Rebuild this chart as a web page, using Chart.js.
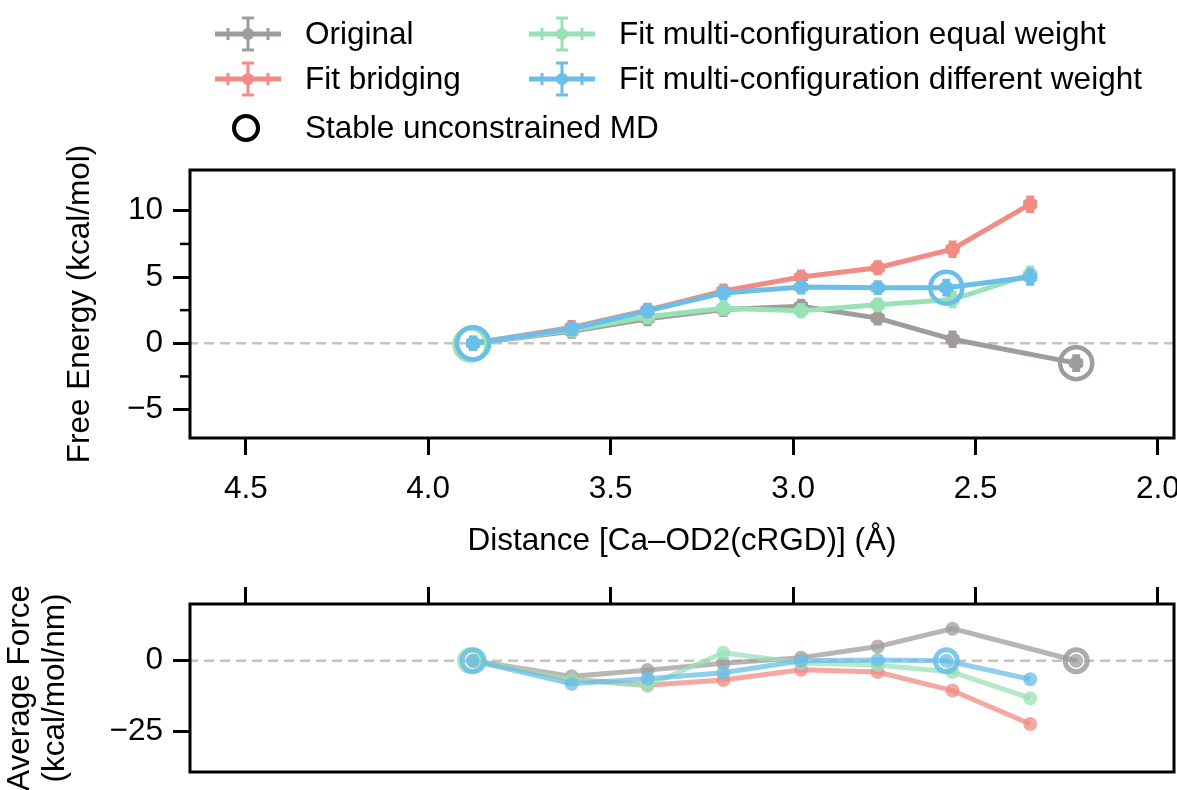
<!DOCTYPE html>
<html>
<head>
<meta charset="utf-8">
<script src="https://cdn.jsdelivr.net/npm/chart.js@4.4.1/dist/chart.umd.min.js"></script>
<style>
  html, body { margin: 0; padding: 0; background: #fff; overflow: hidden; }
  #wrap { position: relative; width: 1177px; height: 790px; }
  #topChart { position: absolute; left: 0; top: 0; }
  #bottomChart { position: absolute; left: 0; top: 560px; }
</style>
</head>
<body>
<div id="wrap">
  <canvas id="topChart" width="1177" height="570"></canvas>
  <canvas id="bottomChart" width="1177" height="240"></canvas>
</div>
<script>
// Distances (Å) of the windows
const distOriginal = [3.877, 3.607, 3.399, 3.191, 2.978, 2.768, 2.563, 2.224];
const distBridging = [3.877, 3.607, 3.399, 3.191, 2.978, 2.768, 2.563, 2.350];
const distEqual = [3.877, 3.607, 3.399, 3.191, 2.978, 2.768, 2.563, 2.350];
const distDifferent = [3.877, 3.607, 3.399, 3.191, 2.978, 2.768, 2.580, 2.350];
const distErr = [0.015, 0.015, 0.015, 0.015, 0.015, 0.015, 0.015, 0.015];

// Free energy (kcal/mol)
const energyOriginal = [0, 0.9, 1.85, 2.55, 2.8, 1.9, 0.3, -1.5];
const energyBridging = [0, 1.2, 2.5, 3.95, 5.0, 5.7, 7.1, 10.5];
const energyEqual = [0, 1.0, 2.0, 2.65, 2.45, 2.9, 3.3, 5.2];
const energyDifferent = [0, 1.1, 2.45, 3.8, 4.25, 4.2, 4.2, 5.0];
const energyErr = [0.3, 0.3, 0.3, 0.3, 0.3, 0.3, 0.4, 0.4];

// Average force (kcal/mol/nm)
const forceOriginal = [0, -5.5, -3.3, -0.9, 1.1, 5.0, 11.3, 0];
const forceBridging = [0, -6.5, -8.6, -6.8, -3.2, -4.0, -10.5, -22.3];
const forceEqual = [0, -6.5, -8.8, 2.8, -0.8, -1.5, -4.0, -13.2];
const forceDifferent = [0, -8.1, -6.3, -4.2, 0, 0.3, 0, -6.5];

// Stable unconstrained MD markers
const stableDistGrey = [2.224];
const stableEnergyGrey = [-1.5];
const stableForceGrey = [0];
const stableDistGreen = [3.884];
const stableEnergyGreen = [-0.1];
const stableForceGreen = [0];
const stableDistBlue = [3.877, 2.580];
const stableEnergyBlue = [0, 4.2];
const stableForceBlue = [0, 0];

// Axis ticks and ranges
const xTicks = [4.5, 4.0, 3.5, 3.0, 2.5, 2.0];
const xRange = [1.956, 4.653];
const energyTicks = [-5, 0, 5, 10];
const energyMinorTicks = [-2.5, 2.5, 7.5];
const energyRange = [-7.15, 13.08];
const forceTicks = [-25, 0];
const forceRange = [-39.2, 20];

const legendLabels = ['Original', 'Fit bridging', 'Fit multi-configuration equal weight', 'Fit multi-configuration different weight', 'Stable unconstrained MD'];

const GREY = '#a09c9c';
const RED = '#f28b84';
const GREEN = '#98e2b6';
const BLUE = '#6abee7';
const FONT = "'Liberation Sans', Arial, Helvetica, sans-serif";
const FONT_SIZE = 31.5;

function rgba(hex, a) {
    const n = parseInt(hex.slice(1), 16);
    return `rgba(${(n >> 16) & 255},${(n >> 8) & 255},${n & 255},${a})`;
}

function zip(xs, ys) {
    return xs.map((x, i) => ({ x: x, y: ys[i] }));
}

function fmtMinus(v) {
    return v < 0 ? '\u2212' + Math.abs(v) : String(v);
}

// Function to make a series dataset
function series(label, xs, ys, color, order, alpha, errs) {
    const c = alpha < 1 ? rgba(color, alpha) : color;
    return {
        label: label,
        data: zip(xs, ys),
        borderColor: c,
        backgroundColor: c,
        borderWidth: 5,
        pointRadius: 7,
        pointBorderWidth: 0,
        pointBackgroundColor: c,
        order: order,
        xErr: errs ? distErr : null,
        yErr: errs,
        errColor: c
    };
}

// Function to make the hollow circle dataset
function circles(xs, ys, color, order, radius, width, alpha) {
    const c = alpha < 1 ? rgba(color, alpha) : color;
    return {
        label: 'stable',
        data: zip(xs, ys),
        showLine: false,
        pointRadius: radius,
        pointBorderWidth: width,
        pointBorderColor: c,
        pointBackgroundColor: 'rgba(0,0,0,0)',
        order: order
    };
}

function zeroLine() {
    return {
        label: 'zero',
        data: zip(xRange, [0, 0]),
        borderColor: '#c4c4c4',
        borderWidth: 2.5,
        borderDash: [10, 6],
        pointRadius: 0,
        order: 100
    };
}

// Plugin: error bars with caps
const errorBarPlugin = {
    id: 'errorBars',
    afterDatasetDraw(chart, args) {
        const ds = chart.data.datasets[args.index];
        if (!ds.yErr) return;
        const ctx = chart.ctx;
        const xs = chart.scales.x, ys = chart.scales.y;
        ctx.save();
        ctx.strokeStyle = ds.errColor;
        ctx.lineWidth = 3;
        ds.data.forEach((p, i) => {
            const px = xs.getPixelForValue(p.x);
            const py = ys.getPixelForValue(p.y);
            const y1 = ys.getPixelForValue(p.y + ds.yErr[i]);
            const y2 = ys.getPixelForValue(p.y - ds.yErr[i]);
            const x1 = xs.getPixelForValue(p.x + ds.xErr[i]);
            const x2 = xs.getPixelForValue(p.x - ds.xErr[i]);
            ctx.beginPath();
            ctx.moveTo(px, y1 - 2); ctx.lineTo(px, y2 + 2);
            ctx.moveTo(px - 4, y1 - 2); ctx.lineTo(px + 4, y1 - 2);
            ctx.moveTo(px - 4, y2 + 2); ctx.lineTo(px + 4, y2 + 2);
            ctx.moveTo(x1, py - 4); ctx.lineTo(x1, py + 4);
            ctx.moveTo(x2, py - 4); ctx.lineTo(x2, py + 4);
            ctx.stroke();
        });
        ctx.restore();
    }
};

// Plugin: black frame around the plot area
const framePlugin = {
    id: 'frame',
    afterDraw(chart) {
        const { ctx, chartArea: a } = chart;
        ctx.save();
        ctx.strokeStyle = '#000';
        ctx.lineWidth = 3;
        ctx.strokeRect(a.left, a.top, a.right - a.left, a.bottom - a.top);
        ctx.restore();
    }
};

// Plugin: minor ticks on the free energy axis
const minorTickPlugin = {
    id: 'minorTicks',
    afterDraw(chart) {
        const ctx = chart.ctx;
        const ys = chart.scales.y;
        ctx.save();
        ctx.strokeStyle = '#000';
        ctx.lineWidth = 2.5;
        energyMinorTicks.forEach(v => {
            const py = ys.getPixelForValue(v);
            ctx.beginPath();
            ctx.moveTo(chart.chartArea.left - 10, py);
            ctx.lineTo(chart.chartArea.left, py);
            ctx.stroke();
        });
        ctx.restore();
    }
};

// Plugin: legend in two columns above the top panel
const legendPlugin = {
    id: 'customLegend',
    afterDraw(chart) {
        const ctx = chart.ctx;
        const items = [
            { color: GREY, cx: 248, cy: 34 },
            { color: RED, cx: 248, cy: 79 },
            { color: GREEN, cx: 562, cy: 34 },
            { color: BLUE, cx: 562, cy: 79 }
        ];
        ctx.save();
        ctx.font = `${FONT_SIZE}px ${FONT}`;
        ctx.textBaseline = 'middle';
        items.forEach((it, i) => {
            ctx.strokeStyle = it.color;
            ctx.fillStyle = it.color;
            ctx.lineWidth = 5;
            ctx.beginPath();
            ctx.moveTo(it.cx - 33, it.cy); ctx.lineTo(it.cx + 33, it.cy);
            ctx.stroke();
            ctx.lineWidth = 3;
            ctx.beginPath();
            ctx.moveTo(it.cx, it.cy - 16); ctx.lineTo(it.cx, it.cy + 16);
            ctx.moveTo(it.cx - 6, it.cy - 16); ctx.lineTo(it.cx + 6, it.cy - 16);
            ctx.moveTo(it.cx - 6, it.cy + 16); ctx.lineTo(it.cx + 6, it.cy + 16);
            ctx.moveTo(it.cx - 20, it.cy - 6); ctx.lineTo(it.cx - 20, it.cy + 6);
            ctx.moveTo(it.cx + 20, it.cy - 6); ctx.lineTo(it.cx + 20, it.cy + 6);
            ctx.stroke();
            ctx.beginPath();
            ctx.arc(it.cx, it.cy, 6, 0, Math.PI * 2);
            ctx.fill();
            ctx.fillStyle = '#000';
            ctx.fillText(legendLabels[i], it.cx + 57, it.cy + 1);
        });
        // circle entry
        ctx.strokeStyle = '#000';
        ctx.lineWidth = 4;
        ctx.beginPath();
        ctx.arc(246, 128, 12, 0, Math.PI * 2);
        ctx.stroke();
        ctx.fillStyle = '#000';
        ctx.fillText(legendLabels[4], 305, 129);
        ctx.restore();
    }
};

// Function to build x axis config
function xAxis(position, showLabels, height, title) {
    return {
        type: 'linear',
        position: position,
        reverse: true,
        min: xRange[0],
        max: xRange[1],
        afterBuildTicks: s => { s.ticks = xTicks.map(v => ({ value: v })); },
        afterFit: s => { s.height = height; s.paddingLeft = 0; s.paddingRight = 0; },
        grid: { drawOnChartArea: false, tickLength: 17, tickWidth: 3, tickColor: '#000' },
        border: { display: false },
        ticks: {
            display: showLabels,
            padding: 15,
            color: '#000',
            maxRotation: 0,
            font: { family: FONT, size: FONT_SIZE },
            callback: v => Number(v).toFixed(1)
        },
        title: {
            display: !!title,
            text: title,
            color: '#000',
            font: { family: FONT, size: FONT_SIZE },
            padding: { top: 0, bottom: 10 }
        }
    };
}

// Function to build y axis config
function yAxis(range, ticks, title, titlePad, lineHeight) {
    return {
        type: 'linear',
        position: 'left',
        min: range[0],
        max: range[1],
        afterBuildTicks: s => { s.ticks = ticks.map(v => ({ value: v })); },
        afterFit: s => { s.width = 190; s.paddingTop = 0; s.paddingBottom = 0; },
        grid: { drawOnChartArea: false, tickLength: 17, tickWidth: 3, tickColor: '#000' },
        border: { display: false },
        ticks: {
            padding: 10,
            color: '#000',
            font: { family: FONT, size: FONT_SIZE },
            callback: v => fmtMinus(v)
        },
        title: {
            display: true,
            text: title,
            color: '#000',
            font: { family: FONT, size: FONT_SIZE, lineHeight: lineHeight },
            padding: { top: titlePad, bottom: 0 }
        }
    };
}

function baseOptions(padding) {
    return {
        responsive: false,
        animation: false,
        events: [],
        layout: { padding: padding, autoPadding: false },
        plugins: { legend: { display: false }, tooltip: { enabled: false } }
    };
}

// Top panel: free energy
const topOptions = baseOptions({ top: 170, right: 3, left: 0, bottom: 0 });
topOptions.scales = {
    x: xAxis('bottom', true, 132, 'Distance [Ca\u2013OD2(cRGD)] (\u00c5)'),
    y: yAxis(energyRange, energyTicks, 'Free Energy (kcal/mol)', 61, 1.2)
};

new Chart(document.getElementById('topChart').getContext('2d'), {
    type: 'line',
    data: {
        datasets: [
            zeroLine(),
            series(legendLabels[0], distOriginal, energyOriginal, GREY, 50, 1, energyErr),
            series(legendLabels[1], distBridging, energyBridging, RED, 40, 1, energyErr),
            series(legendLabels[2], distEqual, energyEqual, GREEN, 30, 1, energyErr),
            series(legendLabels[3], distDifferent, energyDifferent, BLUE, 20, 1, energyErr),
            circles(stableDistGrey, stableEnergyGrey, GREY, 12, 16, 4.5, 1),
            circles(stableDistGreen, stableEnergyGreen, GREEN, 15, 16, 4.5, 1),
            circles(stableDistBlue, stableEnergyBlue, BLUE, 10, 16, 4.5, 1)
        ]
    },
    options: topOptions,
    plugins: [errorBarPlugin, minorTickPlugin, framePlugin, legendPlugin]
});

// Bottom panel: average force
const bottomOptions = baseOptions({ top: 0, right: 3, left: 0, bottom: 28 });
bottomOptions.scales = {
    x: xAxis('top', false, 44, ''),
    y: yAxis(forceRange, forceTicks, ['Average Force', '(kcal/mol/nm)'], 3, 1.1)
};

new Chart(document.getElementById('bottomChart').getContext('2d'), {
    type: 'line',
    data: {
        datasets: [
            zeroLine(),
            series(legendLabels[0], distOriginal, forceOriginal, GREY, 50, 0.75, null),
            series(legendLabels[1], distBridging, forceBridging, RED, 40, 0.75, null),
            series(legendLabels[2], distEqual, forceEqual, GREEN, 30, 0.75, null),
            series(legendLabels[3], distDifferent, forceDifferent, BLUE, 20, 0.75, null),
            circles(stableDistGrey, stableForceGrey, GREY, 12, 11, 5, 0.85),
            circles(stableDistGreen, stableForceGreen, GREEN, 15, 11, 5, 0.85),
            circles(stableDistBlue, stableForceBlue, BLUE, 10, 11, 5, 0.85)
        ]
    },
    options: bottomOptions,
    plugins: [framePlugin]
});
</script>
</body>
</html>
